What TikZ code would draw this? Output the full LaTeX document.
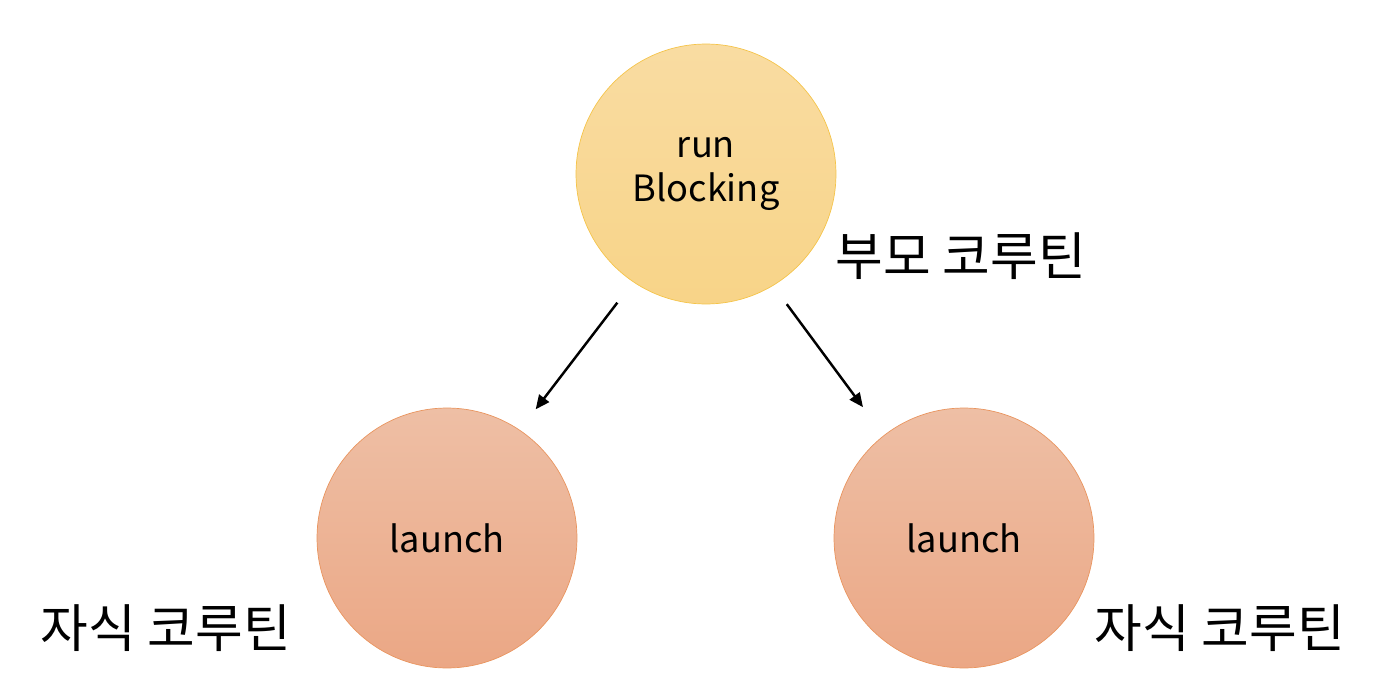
\documentclass[tikz,border=0pt]{standalone}
\usepackage{fontspec}
\newfontfamily\krfont{Noto Sans CJK KR}
\usetikzlibrary{arrows.meta}

\begin{document}
\begin{tikzpicture}[
   x=0.02cm, y=-0.02cm,
   >={Triangle[length=8pt, width=7pt]},
   parent/.style={circle, draw=parentline, top color=parenttop, bottom color=parentbot,
                  minimum size=5.2cm, inner sep=0pt, font=\krfont\fontsize{20.6}{25}\selectfont, align=center},
   child/.style={circle, draw=childline, top color=childtop, bottom color=childbot,
                 minimum size=5.2cm, inner sep=0pt, font=\krfont\fontsize{20.6}{25}\selectfont},
   spawn/.style={->, line width=1.4pt, shorten >=0.52cm, shorten <=0.52cm},
   rolelabel/.style={font=\krfont\fontsize{29.5}{34}\selectfont}
]
\definecolor{parentline}{HTML}{F5C44A}
\definecolor{parenttop}{HTML}{F9DCA2}
\definecolor{parentbot}{HTML}{F8D488}
\definecolor{childline}{HTML}{E9955F}
\definecolor{childtop}{HTML}{EEBFA5}
\definecolor{childbot}{HTML}{EBA785}

% --- canvas
\useasboundingbox (0,0) rectangle (1380,690);

% --- coroutines
\node[parent] (runblock) at (706,174) {run\\Blocking};
\node[child] (launchL) at (447,538) {launch};
\node[child] (launchR) at (964,538) {launch};

% --- parent starts the children
\draw[spawn] (runblock.236) -- (launchL.56);
\draw[spawn, shorten <=0.46cm, shorten >=0.7cm] (runblock.301) -- (launchR.128);

% --- role labels
\node[rolelabel] (parentlbl) at (961,256) {부모 코루틴};
\node[rolelabel] (childlblL) at (166,628) {자식 코루틴};
\node[rolelabel] (childlblR) at (1220,628) {자식 코루틴};

\end{tikzpicture}
\end{document}
